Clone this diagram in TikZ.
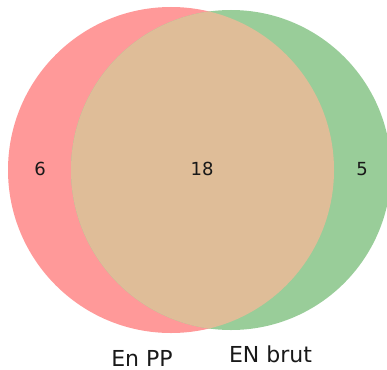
\documentclass[tikz,border=0pt]{standalone}
\usepackage{fontspec}
\setmainfont{DejaVu Sans}
\definecolor{setred}{RGB}{255,153,153}
\definecolor{setgreen}{RGB}{153,205,153}
\definecolor{setmix}{RGB}{223,189,152}
\tikzset{
  numlabel/.style={font=\fontsize{18}{20}\selectfont, text=black!90, inner sep=0pt},
  setlabel/.style={font=\fontsize{22}{25}\selectfont, text=black!90, inner sep=0pt, text depth=0pt, anchor=base}
}
\begin{document}
\begin{tikzpicture}[x=1pt,y=-1pt]
\useasboundingbox (0,0) rectangle (387,369);
\fill[setred] (171,170) circle (163pt);
\fill[setgreen] (231,170) circle (160pt);
\begin{scope}
  \clip (171,170) circle (163pt);
  \fill[setmix] (231,170) circle (160pt);
\end{scope}
\node[numlabel] (a) at (40,169) {6};
\node[numlabel] (ab) at (202,169) {18};
\node[numlabel] (b) at (362,169) {5};
\node[setlabel] (la) at (142,366) {En PP};
\node[setlabel] (lb) at (270.5,362.5) {EN brut};
\end{tikzpicture}
\end{document}
